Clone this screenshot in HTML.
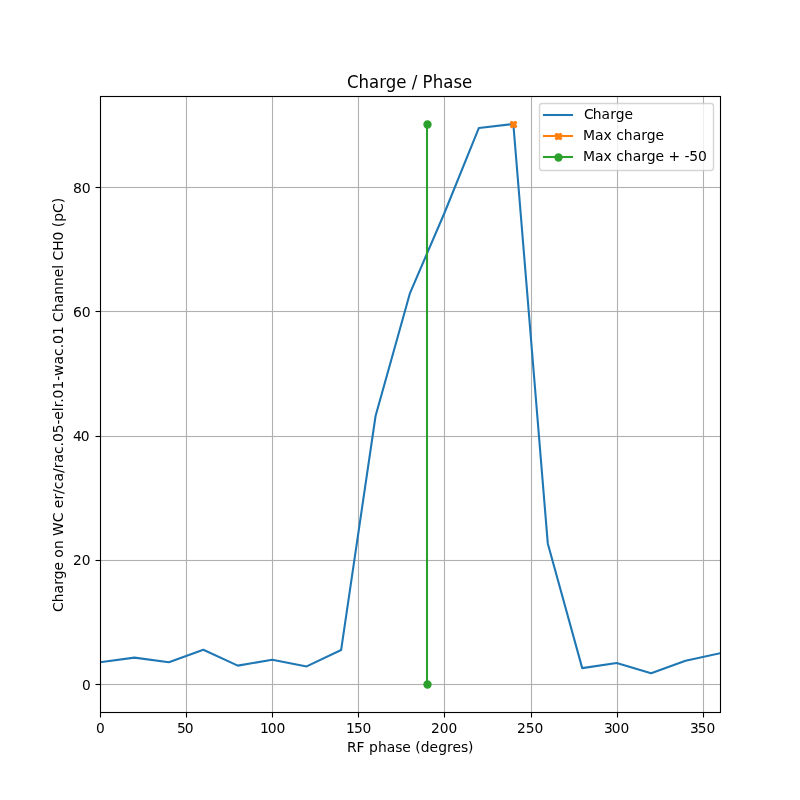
<!DOCTYPE html>
<html lang="en"><head><meta charset="utf-8"><title>Charge / Phase</title>
<style>html,body{margin:0;padding:0;background:#fff;width:800px;height:800px;overflow:hidden}svg{display:block}text{font-family:'DejaVu Sans','Liberation Sans',sans-serif;fill:#000}</style>
</head><body>
<svg width="800" height="800" viewBox="0 0 800 800">
<rect width="800" height="800" fill="#fff"/>
<g stroke="#b0b0b0" stroke-width="1.111" fill="none">
<path d="M186.5 96.5V712.5"/>
<path d="M272.5 96.5V712.5"/>
<path d="M358.5 96.5V712.5"/>
<path d="M444.5 96.5V712.5"/>
<path d="M531.5 96.5V712.5"/>
<path d="M617.5 96.5V712.5"/>
<path d="M703.5 96.5V712.5"/>
<rect x="100.5" y="186.9445" width="620.0" height="1.111" fill="#b0b0b0" stroke="none"/>
<rect x="100.5" y="310.9445" width="620.0" height="1.111" fill="#b0b0b0" stroke="none"/>
<rect x="100.5" y="435.9445" width="620.0" height="1.111" fill="#b0b0b0" stroke="none"/>
<rect x="100.5" y="559.9445" width="620.0" height="1.111" fill="#b0b0b0" stroke="none"/>
<rect x="100.5" y="683.9445" width="620.0" height="1.111" fill="#b0b0b0" stroke="none"/>
</g>
<g stroke="#000" stroke-width="1.111" fill="none">
<path d="M100.5 712.5v5"/>
<path d="M186.5 712.5v5"/>
<path d="M272.5 712.5v5"/>
<path d="M358.5 712.5v5"/>
<path d="M444.5 712.5v5"/>
<path d="M531.5 712.5v5"/>
<path d="M617.5 712.5v5"/>
<path d="M703.5 712.5v5"/>
<path d="M100.5 187.5h-5"/>
<path d="M100.5 311.5h-5"/>
<path d="M100.5 436.5h-5"/>
<path d="M100.5 560.5h-5"/>
<path d="M100.5 684.5h-5"/>
</g>
<text id="xt0" transform="translate(100.34 732.53) scale(0.992 1.045)" text-anchor="start" font-size="13.889px" x="-4.42">0</text>
<text id="xt50" transform="translate(184.72 732.55) scale(0.996 1.015)" text-anchor="start" font-size="13.889px" x="-7.84 -0.01">50</text>
<text id="xt100" transform="translate(272.21 732.59) scale(1.004 1.015)" text-anchor="start" font-size="13.889px" x="-12.24 -4.43 4.40">100</text>
<text id="xt150" transform="translate(358.33 732.51) scale(0.996 1.045)" text-anchor="start" font-size="13.889px" x="-12.50 -4.43 4.15">150</text>
<text id="xt200" transform="translate(444.03 732.59) scale(0.992 1.045)" text-anchor="start" font-size="13.889px" x="-13.25 -4.43 4.40">200</text>
<text id="xt250" transform="translate(530.11 732.59) scale(0.996 1.015)" text-anchor="start" font-size="13.889px" x="-13.25 -4.42 4.41">250</text>
<text id="xt300" transform="translate(616.10 732.58) scale(0.992 1.045)" text-anchor="start" font-size="13.889px" x="-12.25 -4.42 4.41">300</text>
<text id="xt350" transform="translate(702.09 732.58) scale(0.996 1.045)" text-anchor="start" font-size="13.889px" x="-12.24 -4.43 4.40">350</text>
<text id="yt0" transform="translate(90.72 689.54) scale(0.992 1.045)" text-anchor="start" font-size="13.889px" x="-8.83">0</text>
<text id="yt20" transform="translate(90.42 564.59) scale(0.992 1.045)" text-anchor="start" font-size="13.889px" x="-17.67 -8.85">20</text>
<text id="yt40" transform="translate(89.48 440.55) scale(0.996 1.015)" text-anchor="start" font-size="13.889px" x="-16.67 -8.85">40</text>
<text id="yt60" transform="translate(90.74 316.50) scale(1.008 0.955)" text-anchor="start" font-size="13.889px" x="-17.66 -8.85">60</text>
<text id="yt80" transform="translate(90.78 192.55) scale(1.012 1.03)" text-anchor="start" font-size="13.889px" x="-17.66 -8.85">80</text>
<text id="xlabel" transform="translate(410.33 751.54) scale(1 0.955)" text-anchor="start" font-size="13.889px" x="-63.28 -53.90 -45.66 -41.24 -32.42 -23.62 -15.12 -8.13 0.67 4.83 10.50 19.07 27.85 36.67 42.08 50.63 57.60">RF phase (degres)</text>
<text id="ylabel" transform="translate(62.59 404.89) rotate(-90) scale(1 1.045)" text-anchor="start" font-size="13.889px" x="-207.08 -197.39 -188.61 -179.99 -174.39 -165.72 -157.31 -152.91 -144.16 -135.63 -131.21 -117.49 -107.81 -103.41 -94.61 -89.17 -84.49 -76.73 -68.23 -63.43 -57.74 -49.23 -41.73 -37.20 -28.37 -19.67 -14.80 -6.26 -2.41 2.02 6.44 15.39 24.09 28.85 40.45 48.94 56.56 60.98 69.81 78.63 82.79 92.85 101.64 110.15 118.81 127.61 136.13 140.00 144.40 154.08 164.51 173.35 177.75 183.17 191.97 201.66">Charge on WC er/ca/rac.05-elr.01-wac.01 Channel CH0 (pC)</text>
<text id="title" transform="translate(409.60 87.57) scale(0.996 1.085)" text-anchor="start" font-size="16.667px" x="-62.83 -51.21 -40.65 -30.45 -23.90 -13.34 -3.10 2.20 7.80 12.85 23.14 33.68 44.02 52.56">Charge / Phase</text>
<clipPath id="c"><rect x="100.0" y="96.0" width="620.0" height="616.0"/></clipPath>
<g clip-path="url(#c)">
<polyline points="100.00,662.20 134.44,657.61 168.89,662.20 203.33,649.78 237.78,665.62 272.22,659.78 306.67,666.42 341.11,650.03 375.56,416.02 410.00,293.05 444.44,213.00 478.89,127.91 513.33,124.00 547.78,543.46 582.22,668.10 616.67,663.07 651.11,673.32 685.56,660.71 720.00,653.20" fill="none" stroke="#1f77b4" stroke-width="2.083" stroke-linecap="square" stroke-linejoin="round"/>
<path d="M511.400 127.500 L513.500 126.500 L515.600 127.500 L516.500 126.600 L515.500 124.500 L516.500 122.400 L515.600 121.500 L513.500 122.500 L511.400 121.500 L510.500 122.400 L511.500 124.500 L510.500 126.600Z" fill="#ff7f0e" stroke="#ff7f0e" stroke-width="1.389" stroke-linejoin="miter"/>
<path d="M427 684.00V124.00" stroke="#2ca02c" stroke-width="2.083" stroke-linecap="square" fill="none"/>
<circle cx="427.50" cy="684.50" r="3.5" fill="#2ca02c" stroke="#2ca02c" stroke-width="1.389"/>
<circle cx="427.50" cy="124.50" r="3.5" fill="#2ca02c" stroke="#2ca02c" stroke-width="1.389"/>
</g>
<rect x="100.5" y="96.5" width="620.0" height="616.0" fill="none" stroke="#000" stroke-width="1.111" stroke-linejoin="miter"/>
<rect x="539.5" y="103.5" width="174" height="67" rx="2.78" fill="#fff" stroke="#ccc" stroke-width="1.389" opacity="0.8"/>
<path d="M544 115H572" stroke="#1f77b4" stroke-width="2.083" stroke-linecap="square" fill="none"/>
<path d="M544 136H572" stroke="#ff7f0e" stroke-width="2.083" stroke-linecap="square" fill="none"/>
<path d="M544 157H572" stroke="#2ca02c" stroke-width="2.083" stroke-linecap="square" fill="none"/>
<path d="M556.400 139.500 L558.500 138.500 L560.600 139.500 L561.500 138.600 L560.500 136.500 L561.500 134.400 L560.600 133.500 L558.500 134.500 L556.400 133.500 L555.500 134.400 L556.500 136.500 L555.500 138.600Z" fill="#ff7f0e" stroke="#ff7f0e" stroke-width="1.389" stroke-linejoin="miter"/>
<circle cx="558.50" cy="157.50" r="3.5" fill="#2ca02c" stroke="#2ca02c" stroke-width="1.389"/>
<text id="leg1" transform="translate(583.18 118.61) scale(1 0.97)" text-anchor="start" font-size="13.889px" x="0.75 9.68 18.23 26.98 32.58 41.26">Charge</text>
<text id="leg2" transform="translate(582.90 139.54) scale(1.004 1)" text-anchor="start" font-size="13.889px" x="0.00 11.96 20.48 28.68 33.22 40.73 49.65 58.02 63.61 72.29">Max charge</text>
<text id="leg3" transform="translate(582.94 160.59) scale(1.004 1.03)" text-anchor="start" font-size="13.889px" x="0.00 11.97 20.46 28.67 33.08 40.71 49.50 58.01 63.46 72.27 80.81 85.22 96.83 101.24 105.87 114.58">Max charge + -50</text>
</svg></body></html>
